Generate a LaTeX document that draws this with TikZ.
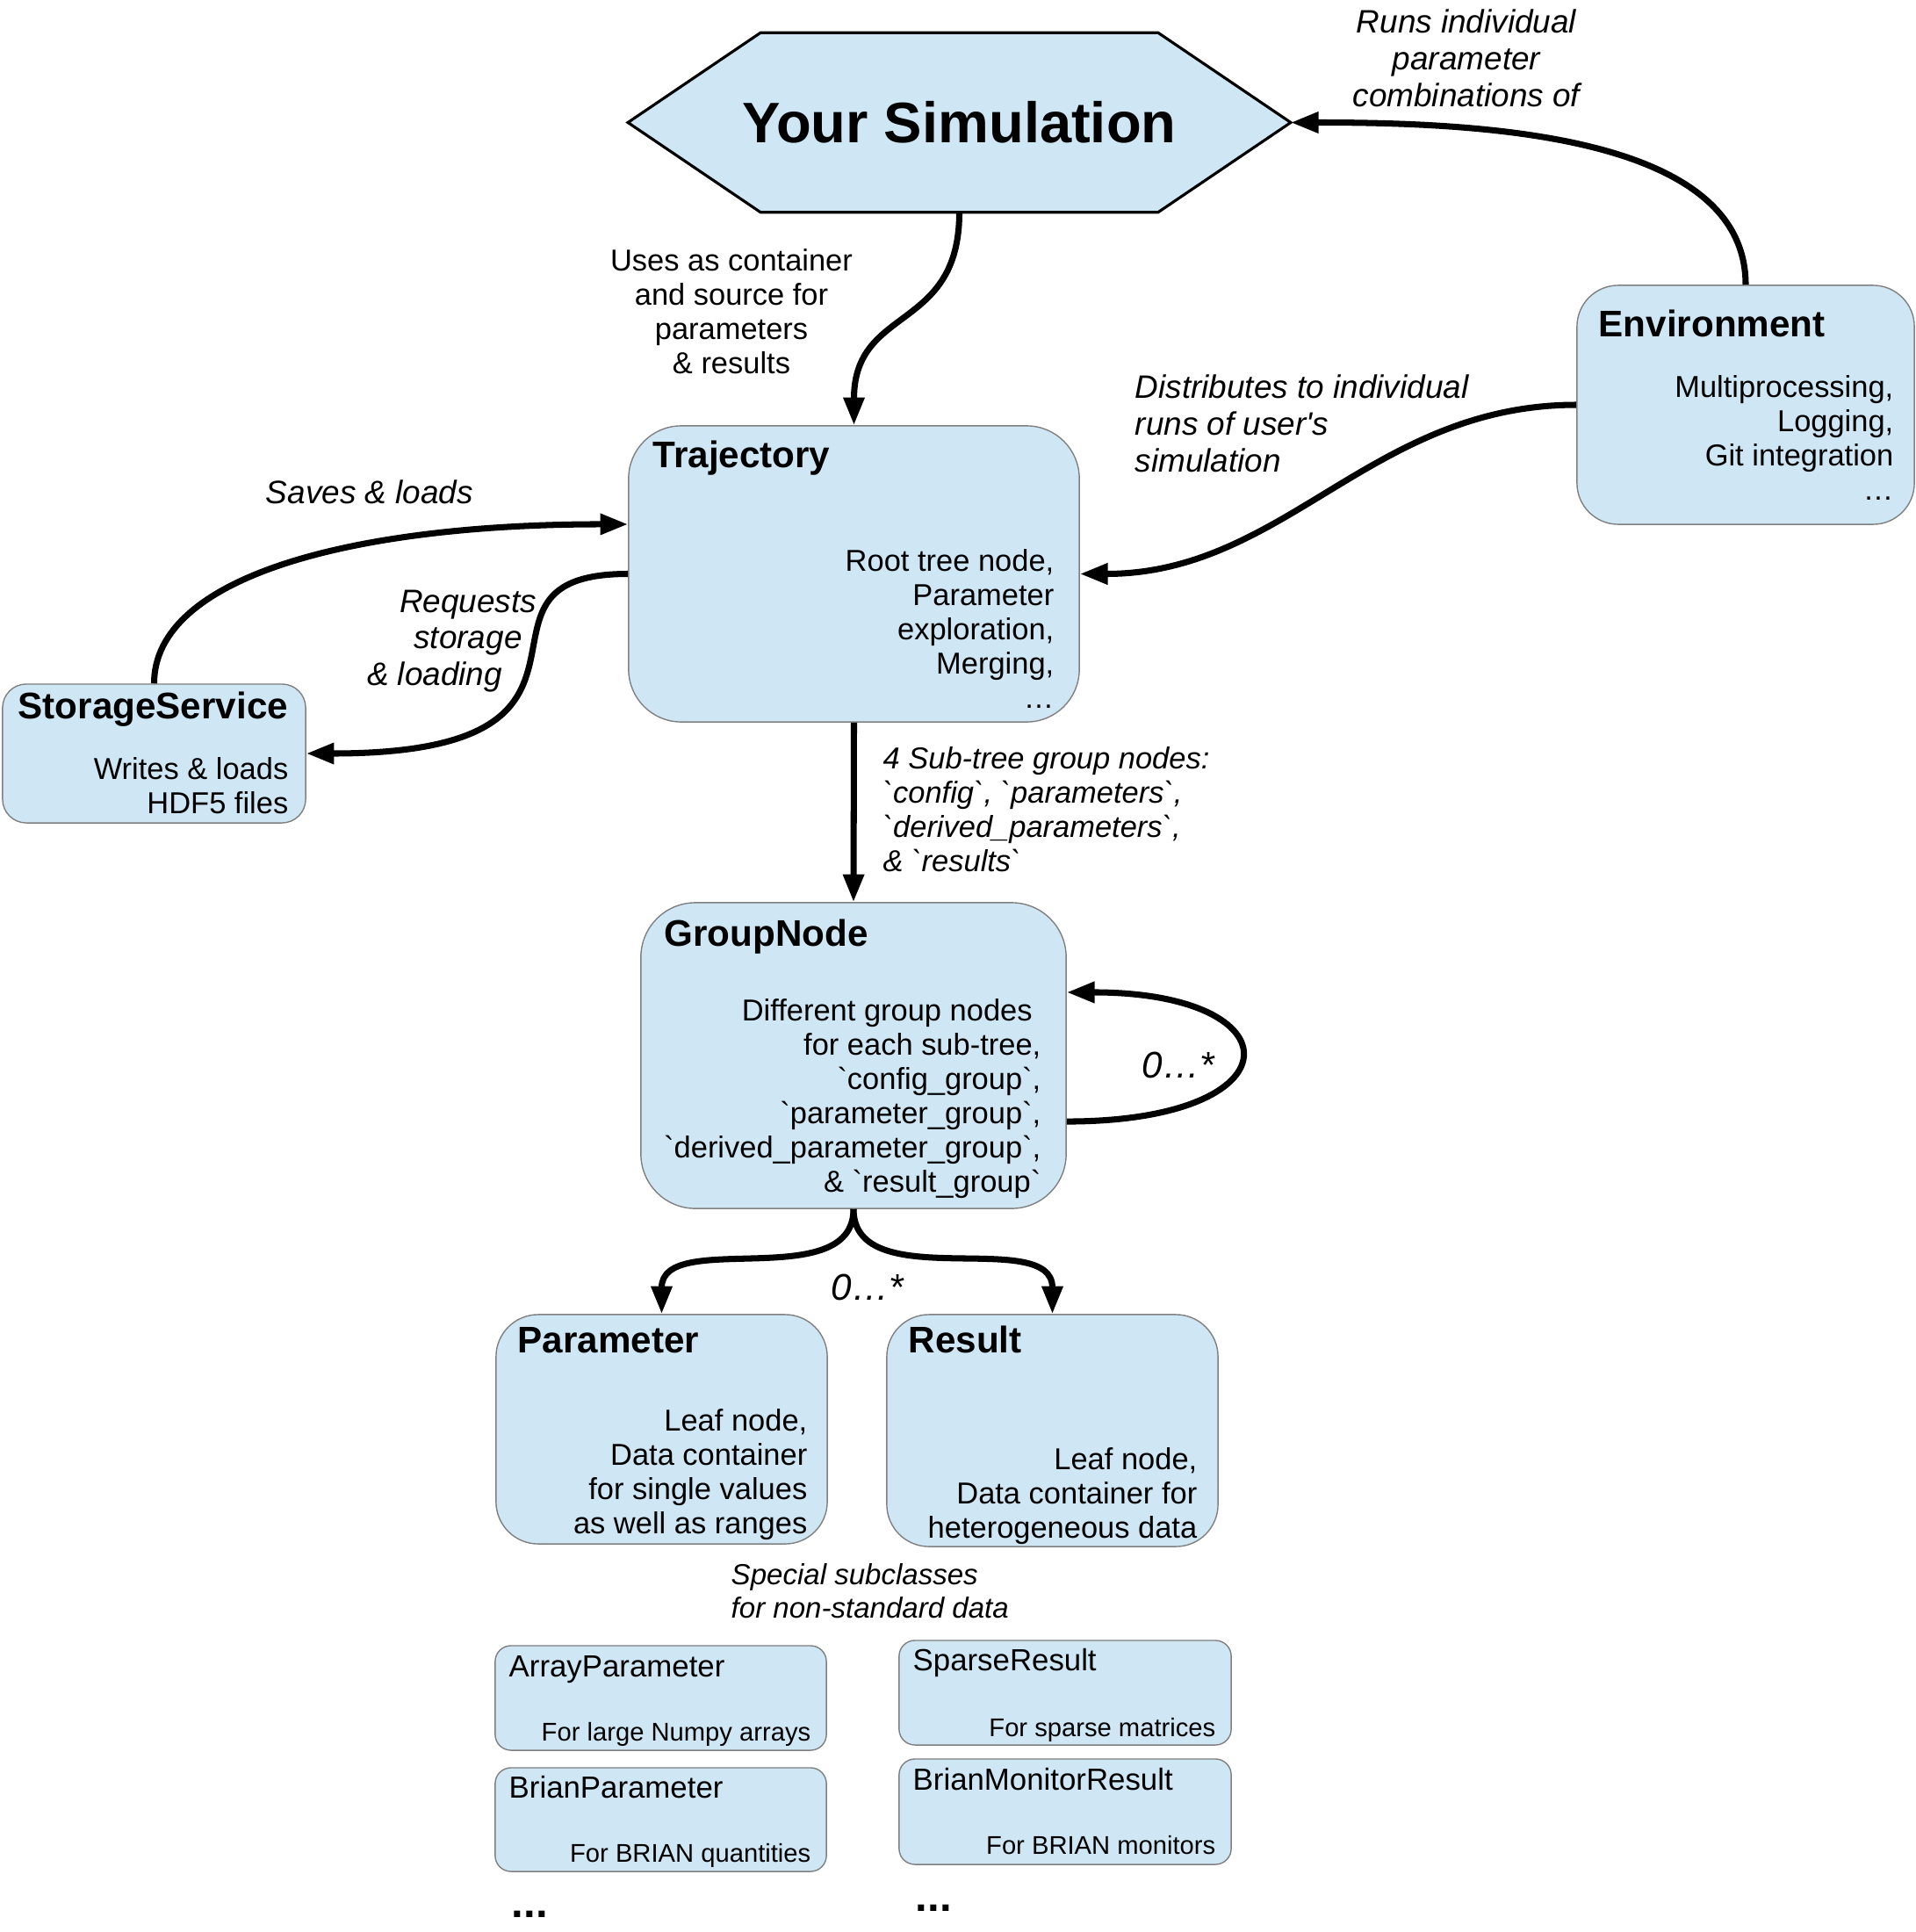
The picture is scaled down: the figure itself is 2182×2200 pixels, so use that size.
\documentclass[tikz,border=0pt]{standalone}
\usepackage{fontspec}
\setmainfont{Liberation Sans}
\usepackage{tikz}
\usepackage{xcolor}
\usetikzlibrary{arrows.meta,backgrounds}

\definecolor{boxblue}{RGB}{207,231,245}
\definecolor{boxline}{RGB}{128,128,128}

\tikzstyle{classbox} = [rectangle, draw=boxline, line width=0.4pt, fill=boxblue, inner sep=0pt]
\tikzstyle{simtext} = [inner sep=0pt, font=\fontsize{18.5}{22}\selectfont\bfseries]
\tikzstyle{hexline} = [draw=black, line width=0.9pt, fill=boxblue, line join=miter]
\tikzstyle{boxtitle} = [inner sep=0pt, font=\fontsize{12}{14}\selectfont\bfseries]
\tikzstyle{boxbody} = [inner sep=0pt, align=right, font=\fontsize{9.8}{11.06}\selectfont]
\tikzstyle{subtitle} = [inner sep=0pt, font=\fontsize{9.9}{12}\selectfont]
\tikzstyle{subbody} = [inner sep=0pt, font=\fontsize{8.3}{10}\selectfont]
\tikzstyle{edgelabel} = [inner sep=0pt, font=\fontsize{10.5}{11.9}\selectfont\itshape]
\tikzstyle{note} = [inner sep=0pt, font=\fontsize{9.8}{11.06}\selectfont]
\tikzstyle{arrow} = [line width=2pt, ->, >={Triangle[length=9pt, width=6.5pt]}]

\newcommand{\gr}{\textasciigrave}

\begin{document}
\begin{tikzpicture}[x=0.01cm, y=-0.01cm]
    \useasboundingbox (0,0) rectangle (2182,2200);
    \begin{scope}[on background layer]
        \fill [white] (0,0) rectangle (2182,2200);
    \end{scope}

    % simulation hexagon
    \node (sim) [simtext, minimum width=7.53cm, minimum height=2.03cm] at (1092.5,139.5) {Your Simulation};
    \begin{scope}[on background layer]
        \filldraw [hexline] (sim.west) -- ([xshift=1.51cm]sim.north west) -- ([xshift=-1.51cm]sim.north east)
            -- (sim.east) -- ([xshift=-1.51cm]sim.south east) -- ([xshift=1.51cm]sim.south west) -- cycle;
    \end{scope}

    % main boxes
    \node (traj) [classbox, rounded corners=6mm, minimum width=5.13cm, minimum height=3.37cm] at (972.5,653.5) {};
    \node (env) [classbox, rounded corners=4.7mm, minimum width=3.84cm, minimum height=2.72cm] at (1988,461) {};
    \node (store) [classbox, rounded corners=2.7mm, minimum width=3.45cm, minimum height=1.58cm] at (175.5,858) {};
    \node (group) [classbox, rounded corners=6.2mm, minimum width=4.84cm, minimum height=3.48cm] at (972,1202) {};
    \node (param) [classbox, rounded corners=4.8mm, minimum width=3.77cm, minimum height=2.61cm] at (753.5,1627.5) {};
    \node (result) [classbox, rounded corners=4.8mm, minimum width=3.77cm, minimum height=2.64cm] at (1198.5,1629) {};

    \node (trajtitle) [boxtitle, anchor=base west] at (743,532) {Trajectory};
    \node (trajbody) [boxbody, anchor=north east] at (1201,625) {Root tree node,\\Parameter\\exploration,\\Merging,\\…};
    \node (envtitle) [boxtitle, anchor=base west] at (1820,383) {Environment};
    \node (envbody) [boxbody, anchor=north east] at (2157,427) {Multiprocessing,\\Logging,\\Git integration\\…};
    \node (storetitle) [boxtitle, anchor=base west] at (20,818) {StorageService};
    \node (storebody) [boxbody, anchor=north east] at (329,862) {Writes \& loads\\HDF5 files};
    \node (grouptitle) [boxtitle, anchor=base west] at (756,1077) {GroupNode};
    \node (groupbody) [boxbody, anchor=north east] at (1186,1137) {Different group nodes\hspace*{0.28em}\\for each sub-tree,\\\gr config\_group\gr,\\\gr parameter\_group\gr,\\\gr derived\_parameter\_group\gr,\\\& \gr result\_group\gr};
    \node (paramtitle) [boxtitle, anchor=base west] at (589,1540) {Parameter};
    \node (parambody) [boxbody, anchor=north east] at (920,1604) {Leaf node,\\Data container\\for single values\\as well as ranges};
    \node (resulttitle) [boxtitle, anchor=base west] at (1034,1540) {Result};
    \node (resultbody) [boxbody, anchor=north east] at (1364,1648) {Leaf node,\\Data container for\\heterogeneous data};

    % special subclasses
    \node (arrayparam) [classbox, rounded corners=1.8mm, minimum width=3.77cm, minimum height=1.19cm] at (752.5,1933.5) {};
    \node (brianparam) [classbox, rounded corners=1.8mm, minimum width=3.77cm, minimum height=1.18cm] at (752.5,2072) {};
    \node (sparseresult) [classbox, rounded corners=1.8mm, minimum width=3.78cm, minimum height=1.19cm] at (1213,1927.5) {};
    \node (brianresult) [classbox, rounded corners=1.8mm, minimum width=3.78cm, minimum height=1.2cm] at (1213,2063) {};

    \node (arrayparamtitle) [subtitle, anchor=base west] at (579,1909) {ArrayParameter};
    \node (arrayparambody) [subbody, anchor=base east] at (924,1982) {For large Numpy arrays};
    \node (brianparamtitle) [subtitle, anchor=base west] at (579,2047) {BrianParameter};
    \node (brianparambody) [subbody, anchor=base east] at (924,2120) {For BRIAN quantities};
    \node (sparseresulttitle) [subtitle, anchor=base west] at (1039,1902) {SparseResult};
    \node (sparseresultbody) [subbody, anchor=base east] at (1385,1977) {For sparse matrices};
    \node (brianresulttitle) [subtitle, anchor=base west] at (1039,2038) {BrianMonitorResult};
    \node (brianresultbody) [subbody, anchor=base east] at (1385,2111) {For BRIAN monitors};
    \node (moreparams) [inner sep=0pt, anchor=base west, font=\fontsize{14}{16}\selectfont\bfseries] at (582,2183) {...};
    \node (moreresults) [inner sep=0pt, anchor=base west, font=\fontsize{14}{16}\selectfont\bfseries] at (1042,2176) {...};

    % labels
    \node (runslabel) [edgelabel, align=center, anchor=north] at (1670,10) {Runs individual\\parameter\\combinations of};
    \node (useslabel) [note, align=center, anchor=north] at (833,283) {Uses as container\\and source for\\parameters\\\& results};
    \node (distlabel) [edgelabel, align=left, anchor=north west] at (1292,426) {Distributes to individual\\runs of user\textquotesingle s\\simulation};
    \node (saveslabel) [edgelabel, anchor=base] at (421,573) {Saves \& loads};
    \node (reqlabel) [edgelabel, align=center, anchor=north] at (533,671) {Requests\\storage\\\& loading\hspace*{21.6pt}};
    \node (subtreelabel) [note, font=\fontsize{9.8}{11.06}\selectfont\itshape, align=left, anchor=north west] at (1005,850) {4 Sub-tree group nodes:\\\gr config\gr, \gr parameters\gr,\\\gr derived\_parameters\gr,\\\& \gr results\gr};
    \node (looplabel) [edgelabel, font=\fontsize{12}{14}\selectfont\itshape] at (1342,1213) {0…*};
    \node (leaflabel) [edgelabel, font=\fontsize{12}{14}\selectfont\itshape] at (988,1466) {0…*};
    \node (speciallabel) [edgelabel, font=\fontsize{9.4}{10.8}\selectfont\itshape, align=left, anchor=north west] at (832,1780) {Special subclasses\\for non-standard data};

    % connectors
    \draw [arrow] (sim.south) to[out=-90, in=90, looseness=1.3] (traj.north);
    \draw [arrow] (env.north) to[out=90, in=0, out looseness=0.8, in looseness=1] (sim.east);
    \draw [arrow] (env.west) to[out=180, in=0] (traj.east);
    \draw [arrow] (store.north) to[out=90, in=180, out looseness=0.55, in looseness=1.4] ([yshift=5.65mm]traj.west);
    \draw [arrow] (traj.west) to[out=180, in=0, out looseness=1.3, in looseness=2.4] (store.east);
    \draw [arrow] (traj.south) -- (group.north);
    \draw [arrow] ([yshift=-7.5mm]group.east) to[out=0, in=0, looseness=4.6] ([yshift=7.2mm]group.east);
    \draw [arrow] (group.south) to[out=-90, in=90] (param.north);
    \draw [arrow] (group.south) to[out=-90, in=90] (result.north);
\end{tikzpicture}
\end{document}
